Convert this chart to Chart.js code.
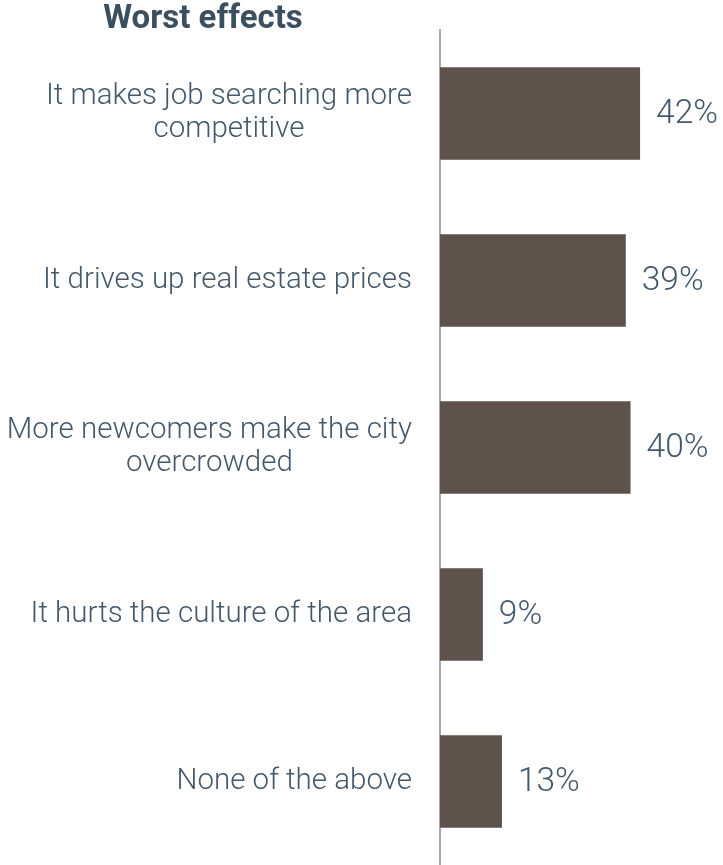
<!DOCTYPE html>
<html lang="en-US">
  <head>
    <meta charset="utf-8" />
    <title>Worst effects</title>
    <style>
      html, body { margin: 0; padding: 0; background: #fff; overflow: hidden; }
      .wrap { position: relative; width: 723px; height: 865px; }
    </style>
  </head>
  <body>
    <div class="wrap">
      <canvas id="chart"></canvas>
    </div>

    <script src="https://cdn.jsdelivr.net/npm/chart.js@4.4.0/dist/chart.umd.min.js"></script>
    <script>
      const TITLE = "Worst effects";

      // categories (wrapped like the source) and percentages
      const categories = [
        ["It makes job searching more", "competitive"],
        "It drives up real estate prices",
        ["More newcomers make the city", "overcrowded"],
        "It hurts the culture of the area",
        "None of the above"
      ];
      const values = [42, 39, 40, 9, 13];

      const TEXT = "#44586a";
      const BAR = "#5e524d";
      const FONT = "Roboto, 'Liberation Sans', sans-serif";
      const LABEL_SIZE = 29.5;
      const LINE_H = 33;
      const AXIS_X = 440;

      // category labels: block right-aligned against the axis, lines centred in the block
      const categoryLabels = {
        id: "categoryLabels",
        afterDraw(chart) {
          const ctx = chart.ctx;
          const y = chart.scales.y;
          ctx.save();
          ctx.font = "300 " + LABEL_SIZE + "px " + FONT;
          ctx.fillStyle = TEXT;
          ctx.textAlign = "center";
          ctx.textBaseline = "middle";
          categories.forEach((label, i) => {
            const lines = Array.isArray(label) ? label : [label];
            const w = Math.max(...lines.map(l => ctx.measureText(l).width));
            const cx = y.right - 28 - w / 2;
            const cy = y.getPixelForTick(i);
            lines.forEach((l, k) => {
              ctx.fillText(l, cx, cy + (k - (lines.length - 1) / 2) * LINE_H);
            });
          });
          ctx.restore();
        }
      };

      // the % next to each bar
      const valueLabels = {
        id: "valueLabels",
        afterDatasetsDraw(chart) {
          const ctx = chart.ctx;
          const meta = chart.getDatasetMeta(0);
          ctx.save();
          ctx.font = "300 33.5px " + FONT;
          ctx.fillStyle = TEXT;
          ctx.textAlign = "left";
          ctx.textBaseline = "middle";
          meta.data.forEach((bar, i) => {
            ctx.fillText(values[i] + "%", bar.x + 16, bar.y + 1);
          });
          ctx.restore();
        }
      };

      // heading over the label column
      const heading = {
        id: "heading",
        afterDraw(chart) {
          const ctx = chart.ctx;
          ctx.save();
          ctx.font = "bold 33px " + FONT;
          ctx.fillStyle = "#3c4f5e";
          ctx.textAlign = "center";
          ctx.textBaseline = "alphabetic";
          ctx.fillText(TITLE, 203, 28);
          ctx.restore();
        }
      };

      new Chart(document.getElementById("chart"), {
        type: "bar",
        data: {
          labels: categories,
          datasets: [{
            data: values,
            backgroundColor: BAR,
            barPercentage: 0.555,
            categoryPercentage: 1
          }]
        },
        options: {
          indexAxis: "y",
          responsive: true,
          maintainAspectRatio: false,
          animation: false,
          layout: { padding: { top: 30, right: 21, left: 0, bottom: 0 } },
          plugins: {
            legend: { display: false },
            tooltip: { enabled: false },
            title: { display: false }
          },
          scales: {
            x: {
              display: false,
              min: 0,
              max: 55
            },
            y: {
              afterFit(scale) {
                scale.width = AXIS_X;
                scale.paddingTop = 0;
                scale.paddingBottom = 0;
              },
              grid: { display: false, drawTicks: false },
              border: { display: true, color: "#a6aaae", width: 2 },
              ticks: {
                color: "rgba(0,0,0,0)",
                font: { family: FONT, size: 10 }
              }
            }
          }
        },
        plugins: [valueLabels, categoryLabels, heading]
      });
    </script>
  </body>
</html>
